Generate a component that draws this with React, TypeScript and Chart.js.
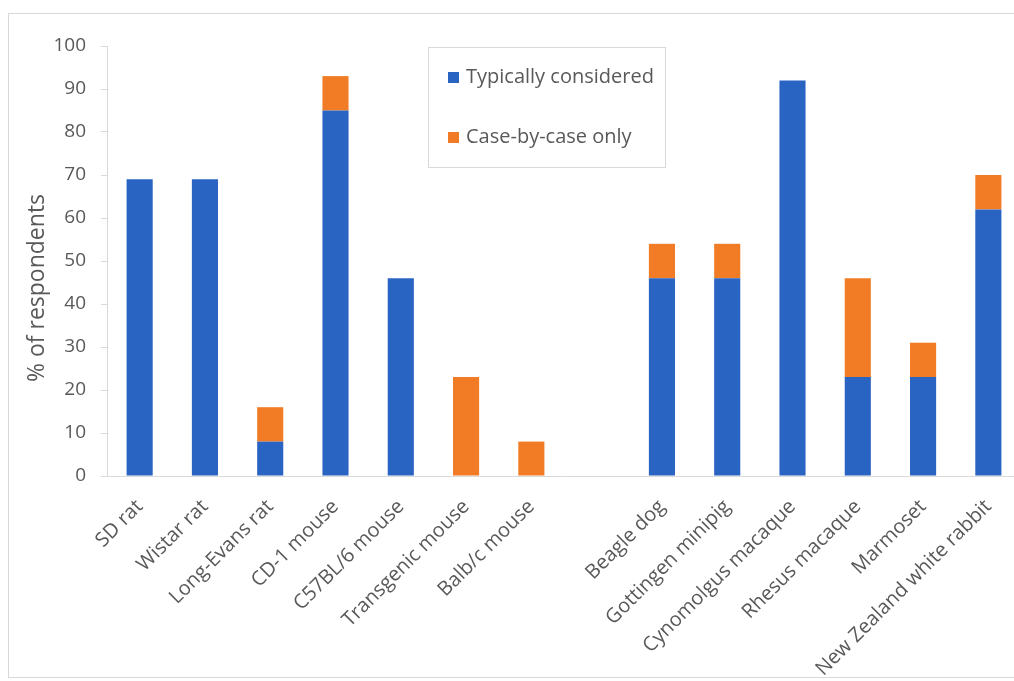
import React, { useEffect, useRef } from "react";
import { Chart, registerables } from "chart.js";

Chart.register(...registerables);

// Species grouped as rodents, a spacer slot, then non-rodents
const categories = [
  "SD rat",
  "Wistar rat",
  "Long-Evans rat",
  "CD-1 mouse",
  "C57BL/6 mouse",
  "Transgenic mouse",
  "Balb/c mouse",
  "",
  "Beagle dog",
  "Gottingen minipig",
  "Cynomolgus macaque",
  "Rhesus macaque",
  "Marmoset",
  "New Zealand white rabbit",
];

const typicallyConsidered = [69, 69, 8, 85, 46, 0, 0, null, 46, 46, 92, 23, 23, 62];
const caseByCaseOnly = [0, 0, 8, 8, 0, 23, 8, null, 8, 8, 0, 23, 8, 8];

const seriesNames = ["Typically considered", "Case-by-case only"];
const seriesColors = ["#2964c2", "#f27c25"];

const yAxisTitle = "% of respondents";
const yMin = 0;
const yMax = 100;
const yStep = 10;

const FONT_FAMILY = "'Open Sans', 'Noto Sans', sans-serif";
const TEXT_COLOR = "#595959";
const LINE_COLOR = "#d9d9d9";

// Bordered legend placed inside the plot area
const boxLegend = {
  id: "boxLegend",
  afterDraw(chart: any) {
    const { ctx, chartArea } = chart;
    const x = Math.round(chartArea.left + 321);
    const y = Math.round(chartArea.top + 1);
    const w = 237;
    const h = 120;
    ctx.save();
    ctx.fillStyle = "#ffffff";
    ctx.fillRect(x, y, w, h);
    ctx.strokeStyle = LINE_COLOR;
    ctx.lineWidth = 1;
    ctx.strokeRect(x + 0.5, y + 0.5, w, h);
    ctx.font = `20px ${FONT_FAMILY}`;
    ctx.textBaseline = "middle";
    ctx.textAlign = "left";
    chart.data.datasets.forEach((ds: any, i: number) => {
      const rowY = y + 30.5 + i * 60;
      ctx.fillStyle = ds.backgroundColor;
      ctx.fillRect(x + 20, Math.round(rowY - 5.5), 11, 11);
      ctx.fillStyle = TEXT_COLOR;
      ctx.fillText(ds.label, x + 38, rowY);
    });
    ctx.restore();
  },
};

// Vertical axis title, drawn rotated beside the tick labels
const axisTitle = {
  id: "axisTitle",
  afterDraw(chart: any) {
    const { ctx } = chart;
    ctx.save();
    ctx.translate(28, 274);
    ctx.rotate(-Math.PI / 2);
    ctx.font = `23px ${FONT_FAMILY}`;
    ctx.fillStyle = TEXT_COLOR;
    ctx.textAlign = "center";
    ctx.textBaseline = "middle";
    ctx.fillText(yAxisTitle, 0, 0);
    ctx.restore();
  },
};

function SpeciesChart() {
  const canvasRef = useRef<HTMLCanvasElement | null>(null);

  useEffect(() => {
    if (!canvasRef.current) return;
    const chart = new Chart(canvasRef.current, {
      type: "bar",
      data: {
        labels: categories,
        datasets: [
          {
            label: seriesNames[0],
            data: typicallyConsidered,
            backgroundColor: seriesColors[0],
            borderWidth: 0,
          },
          {
            label: seriesNames[1],
            data: caseByCaseOnly,
            backgroundColor: seriesColors[1],
            borderWidth: 0,
          },
        ],
      },
      options: {
        responsive: false,
        animation: false,
        devicePixelRatio: 1,
        layout: { padding: { top: 32, left: 0, right: 36, bottom: 0 } },
        datasets: { bar: { categoryPercentage: 1, barPercentage: 0.4 } },
        plugins: {
          legend: { display: false },
          tooltip: { enabled: false },
        },
        scales: {
          x: {
            stacked: true,
            grid: { display: false, drawTicks: false },
            border: { display: true, color: LINE_COLOR },
            ticks: {
              color: TEXT_COLOR,
              font: { family: FONT_FAMILY, size: 20 },
              minRotation: 45,
              maxRotation: 45,
              autoSkip: false,
              padding: 19,
            },
            afterFit: (scale: any) => {
              scale.height = 201;
            },
          },
          y: {
            stacked: true,
            min: yMin,
            max: yMax,
            ticks: {
              stepSize: yStep,
              color: TEXT_COLOR,
              font: { family: FONT_FAMILY, size: 19 },
              padding: 15,
            },
            grid: {
              drawOnChartArea: false,
              drawTicks: true,
              tickLength: 6,
              color: LINE_COLOR,
            },
            border: { display: true, color: LINE_COLOR },
            afterFit: (scale: any) => {
              scale.width = 98;
            },
          },
        },
      },
      plugins: [boxLegend, axisTitle],
    } as any);
    return () => chart.destroy();
  }, []);

  return <canvas ref={canvasRef} width={1048} height={663} style={{ display: "block" }} />;
}

export default function App() {
  return (
    <div
      style={{
        position: "fixed",
        left: 0,
        top: 0,
        width: 1014,
        height: 681,
        overflow: "hidden",
        background: "#ffffff",
      }}
    >
      <div
        style={{
          position: "absolute",
          left: 8,
          top: 13,
          width: 1050,
          height: 665,
          boxSizing: "border-box",
          border: `1px solid ${LINE_COLOR}`,
        }}
      >
        <SpeciesChart />
      </div>
    </div>
  );
}
